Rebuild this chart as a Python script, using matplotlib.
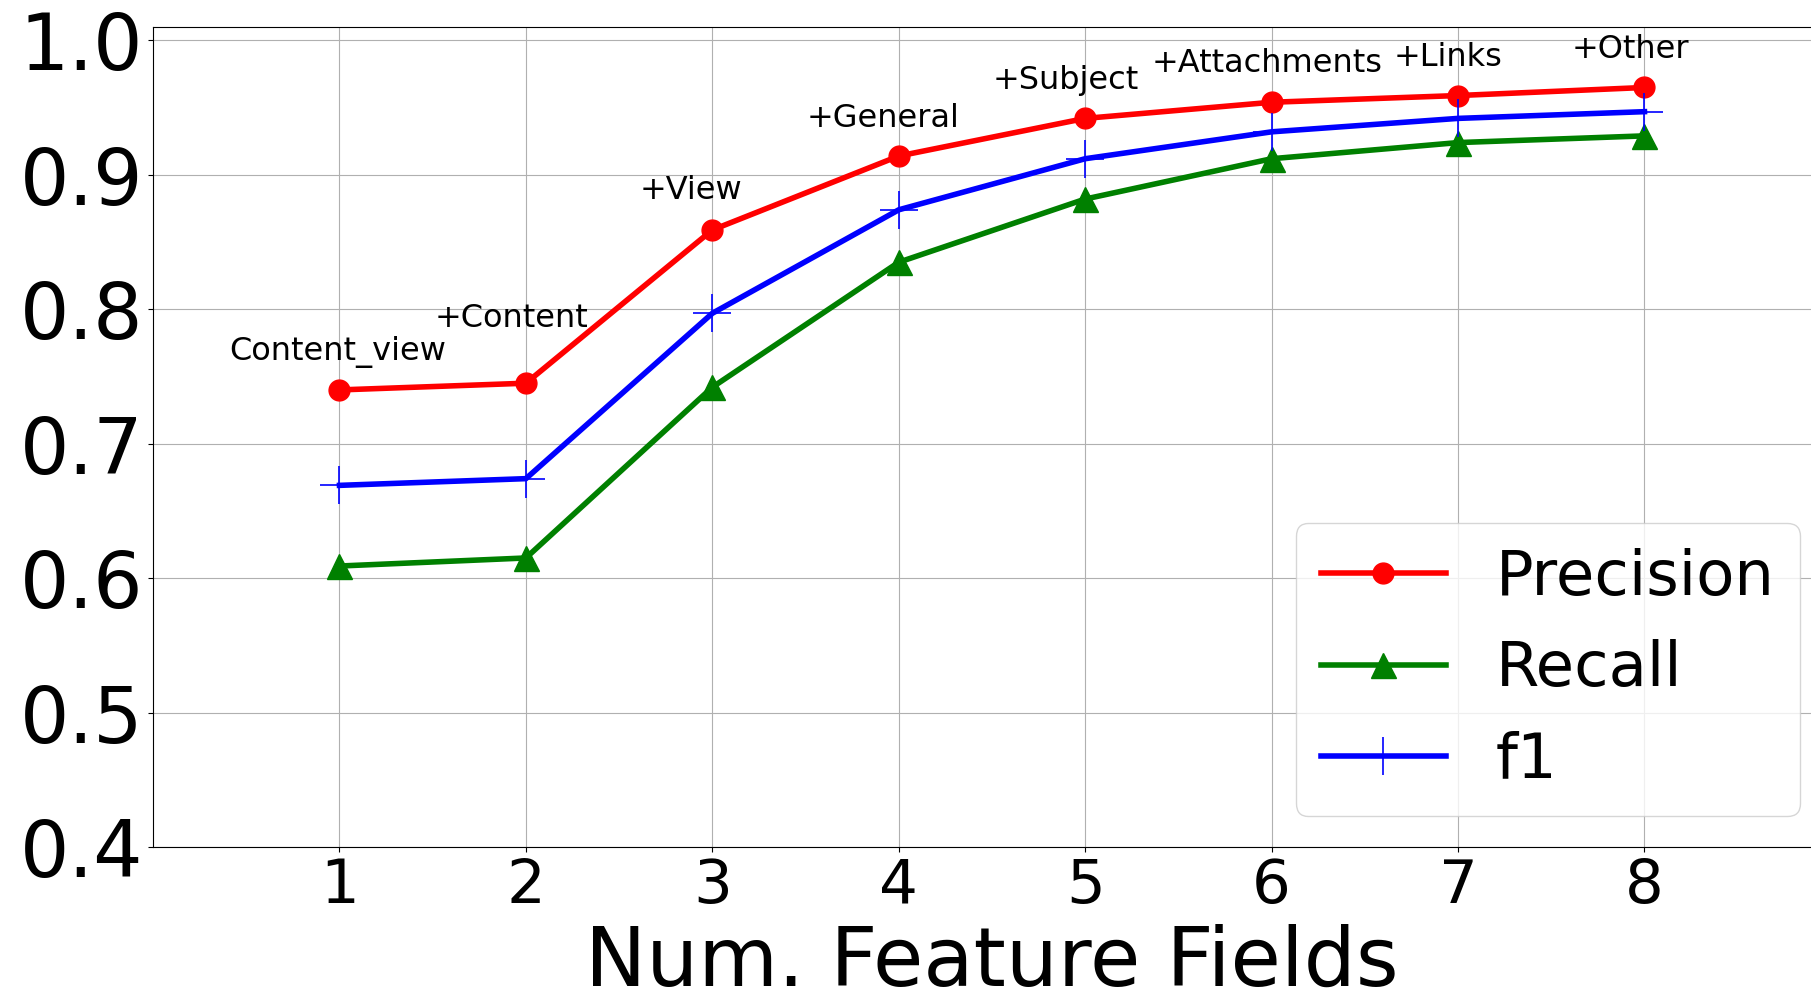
import matplotlib
matplotlib.use('Agg')
import matplotlib.pyplot as plt

# number of feature fields used
fields = [1, 2, 3, 4, 5, 6, 7, 8]
precision = [0.740, 0.745, 0.859, 0.914, 0.942, 0.954, 0.959, 0.965]
recall = [0.609, 0.615, 0.742, 0.835, 0.882, 0.912, 0.924, 0.929]
f1 = [0.669, 0.674, 0.797, 0.874, 0.912, 0.932, 0.942, 0.947]
field_names = ['Content_view', '+Content', '+View', '+General', '+Subject',
               '+Attachments', '+Links', '+Other']

fig = plt.figure(figsize=(18.11, 9.92), dpi=100)
# axes runs a bit past the right edge, like the cropped original
ax = fig.add_axes([0.0845, 0.1462, 0.9265, 0.8266])

ax.plot(fields, precision, c='red', marker='o', markersize=15, linewidth=4, label='Precision')
ax.plot(fields, recall, c='green', marker='^', markersize=18, linewidth=4, label='Recall')
ax.plot(fields, f1, c='blue', marker='+', markersize=27, markeredgewidth=1.2, linewidth=4, label='f1')

# label offsets (pixels) for each field name, relative to the precision point
dx = [-2, -14, -21, -16, -19, -4, -10, -14]
dy = [38, 65, 39, 38, 38, 39, 38, 38]
for i, name in enumerate(field_names):
    ax.annotate(name, (fields[i], precision[i]), xytext=(dx[i], dy[i]),
                textcoords='offset pixels', ha='center', va='center', fontsize=23)

ax.set_xlim(0, 9)
ax.set_ylim(0.4, 1.01)
ax.set_xticks(fields)
ax.set_yticks([0.4, 0.5, 0.6, 0.7, 0.8, 0.9, 1.0])
ax.tick_params(axis='x', labelsize=44)
ax.tick_params(axis='y', labelsize=56)
ax.grid(True)
ax.set_xlabel('Num. Feature Fields', fontsize=59, labelpad=6)

ax.legend(loc='lower right', fontsize=45)

plt.savefig('out.png', dpi=100)
